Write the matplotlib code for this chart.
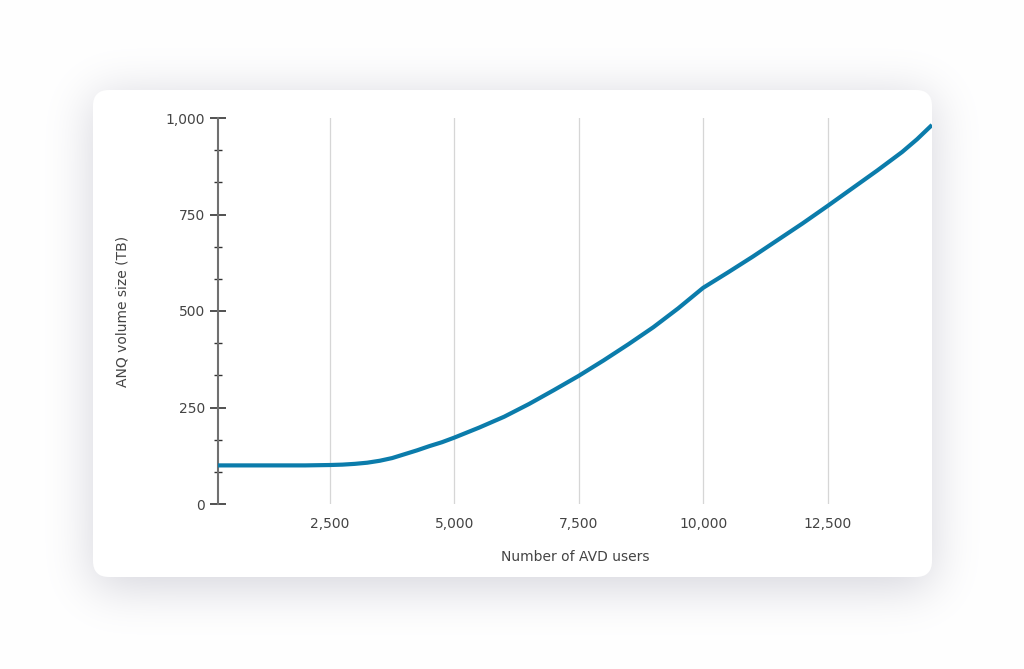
import math
import numpy as np
import matplotlib
matplotlib.use("Agg")
import matplotlib.pyplot as plt
from matplotlib.patches import FancyBboxPatch
from matplotlib.ticker import FuncFormatter, MultipleLocator

# ---- data ----
users = [250, 1000, 2000, 2500, 2750, 3000, 3250, 3500, 3750, 4000, 4250, 4500,
         4750, 5000, 5500, 6000, 6500, 7000, 7500, 8000, 8500, 9000, 9500, 10000,
         10500, 11000, 11500, 12000, 12500, 13000, 13250, 13500, 13750, 14000,
         14300, 14600]
volume_tb = [100, 100, 100, 101, 102, 104, 107, 112, 119, 129, 139, 150,
             160, 172, 198, 226, 259, 295, 332, 372, 414, 458, 507, 560,
             600, 641, 684, 727, 772, 818, 841, 864, 888, 912, 945, 982]
x_ticks = [2500, 5000, 7500, 10000, 12500]
y_ticks = [0, 250, 500, 750, 1000]

W, H = 1024, 669
fig = plt.figure(figsize=(W / 100, H / 100), dpi=100)
fig.patch.set_facecolor("white")

# card position in pixels
cx0, cx1, cy0, cy1 = 93, 932, 90, 577

# soft shadow behind the card (gaussian-blurred rectangle, done analytically)
erf = np.frompyfunc(math.erf, 1, 1)
sig = 24.0
px = np.arange(W) + 0.5
py = np.arange(H) + 0.5
fx = 0.5 * (erf((cx1 - px) / (sig * math.sqrt(2))) - erf((cx0 - px) / (sig * math.sqrt(2)))).astype(float)
sy0, sy1 = cy0 + 6, cy1 + 10
fy = 0.5 * (erf((sy1 - py) / (sig * math.sqrt(2))) - erf((sy0 - py) / (sig * math.sqrt(2)))).astype(float)
f = np.outer(fy, fx)
img = np.ones((H, W, 3))
img[..., 0] -= 0.17 * f
img[..., 1] -= 0.17 * f
img[..., 2] -= 0.14 * f

bg = fig.add_axes([0, 0, 1, 1])
bg.imshow(img, extent=[0, W, H, 0], aspect="auto", interpolation="bilinear")
card = FancyBboxPatch((cx0 + 16, cy0 + 16), cx1 - cx0 - 32, cy1 - cy0 - 32,
                      boxstyle="round,pad=16", facecolor="white", edgecolor="none")
bg.add_patch(card)
bg.set_xlim(0, W)
bg.set_ylim(H, 0)
bg.axis("off")

# ---- chart ----
ax_l, ax_r, ax_t, ax_b = 218, 932, 118, 504
ax = fig.add_axes([ax_l / W, (H - ax_b) / H, (ax_r - ax_l) / W, (ax_b - ax_t) / H])
ax.patch.set_alpha(0)

ax.plot(users, volume_tb, color="#0b7cab", lw=3, solid_capstyle="butt",
        solid_joinstyle="round", zorder=3)

ax.set_xlim(users[0], users[-1])
ax.set_ylim(0, 1000)
ax.set_xticks(x_ticks)
ax.set_yticks(y_ticks)
ax.yaxis.set_minor_locator(MultipleLocator(250 / 3))
fmt = FuncFormatter(lambda v, p: f"{int(v):,}")
ax.xaxis.set_major_formatter(fmt)
ax.yaxis.set_major_formatter(fmt)

ax.grid(axis="x", color="#d6d6d6", lw=0.9)
for s in ["top", "right", "bottom"]:
    ax.spines[s].set_visible(False)
ax.spines["left"].set_color("#707070")
ax.spines["left"].set_linewidth(1.5)

ax.tick_params(axis="x", length=0, pad=9, labelsize=10, labelcolor="#444444")
ax.tick_params(axis="y", which="major", direction="inout", length=11, width=1.2,
               color="#333333", pad=4, labelsize=10, labelcolor="#444444")
ax.tick_params(axis="y", which="minor", direction="inout", length=6, width=1,
               color="#333333")

ax.set_xlabel("Number of AVD users", fontsize=10, color="#444444", labelpad=14)
ax.set_ylabel("ANQ volume size (TB)", fontsize=10, color="#444444", labelpad=26)

fig.savefig("out.png", dpi=100, facecolor="white")
